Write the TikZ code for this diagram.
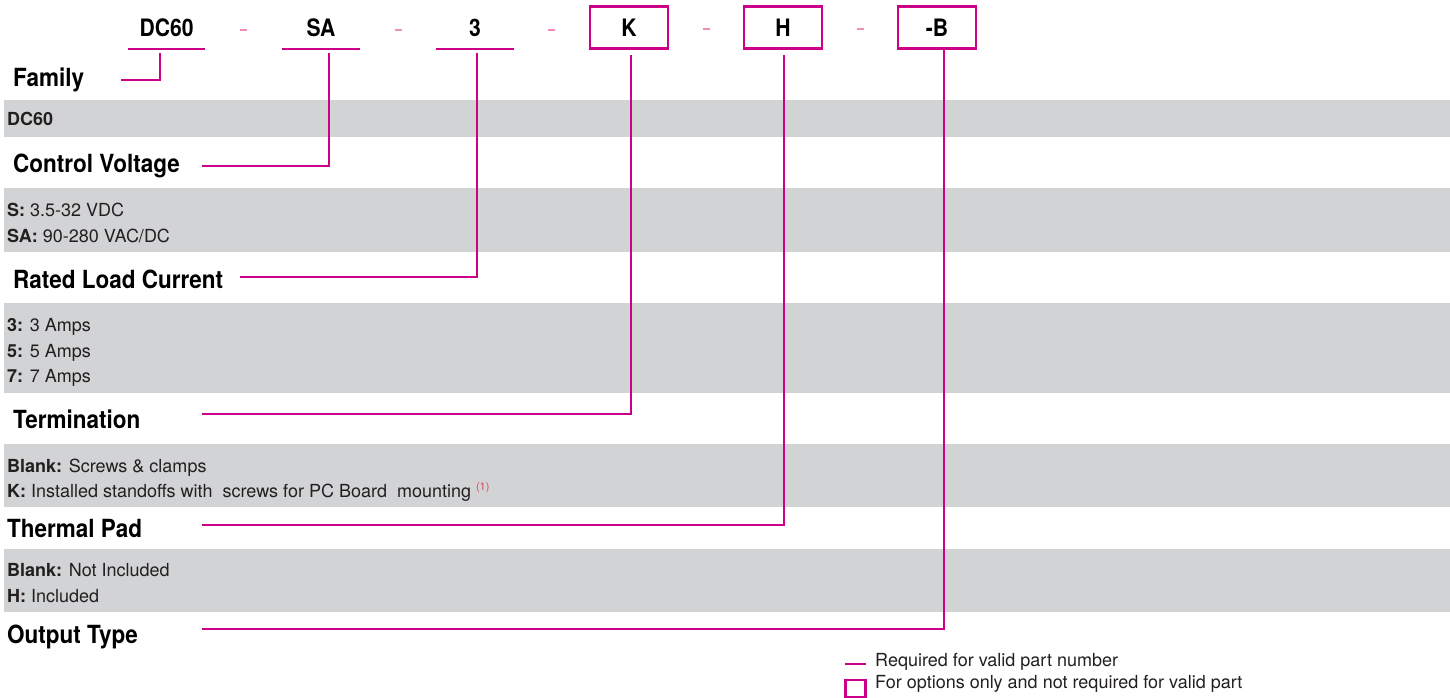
\documentclass[tikz,border=0pt]{standalone}
\usepackage{fontspec}
\setmainfont{TeX Gyre Heros}
\newfontfamily\headfont{TeX Gyre Heros}[FakeStretch=0.9]
\newfontfamily\codefont{TeX Gyre Heros}[FakeStretch=0.88]
\usetikzlibrary{calc}
\definecolor{mag}{RGB}{204,0,136}
\definecolor{dashpink}{RGB}{240,140,185}
\definecolor{band}{RGB}{209,211,212}
\definecolor{txt}{RGB}{35,31,32}
\definecolor{fnred}{RGB}{225,70,90}
\begin{document}
\begin{tikzpicture}[x=1pt,y=-1pt,
  codebox/.style={font=\codefont\fontsize{24}{24}\selectfont\bfseries, anchor=center, inner sep=0pt, minimum width=77pt, minimum height=42pt, text depth=0pt},
  optbox/.style={codebox, draw=mag, line width=2.5pt, minimum width=78pt},
  head/.style={font=\headfont\fontsize{25}{25}\selectfont\bfseries, anchor=base west, inner sep=0pt},
  body/.style={font=\fontsize{18}{18}\selectfont, anchor=base west, inner sep=0pt, text=txt},
  conn/.style={draw=mag, line width=2pt},
  sepdash/.style={draw=dashpink, line width=2pt},
  bandfill/.style={fill=band}]
\useasboundingbox (0,0) rectangle (1450,698);

% gray bands
\fill[bandfill] (4,100) rectangle (1450,137);
\fill[bandfill] (4,188) rectangle (1450,252);
\fill[bandfill] (4,303) rectangle (1450,393);
\fill[bandfill] (4,444) rectangle (1450,507);
\fill[bandfill] (4,549) rectangle (1450,612);

% part-number codes
\node[codebox] (dc) at (166.5,28) {DC60};
\node[codebox] (sa) at (321,28) {SA};
\node[codebox] (cur) at (475,28) {3};
\node[optbox] (k) at (629,27.5) {K};
\node[optbox] (h) at (783,27.5) {H};
\node[optbox] (b) at (937,27.5) {-B};

% underlines of required fields
\draw[conn] (dc.south west) -- (dc.south east);
\draw[conn] (sa.south west) -- (sa.south east);
\draw[conn] (cur.south west) -- (cur.south east);

% separator dashes
\foreach \p/\q in {dc/sa, sa/cur, cur/k, k/h, h/b}{
  \draw[sepdash] ($($(\p.east)!0.5!(\q.west)$)+(-3.5,2)$) -- ++(7,0);
}

% headings
\node[head] (fam) at (13,87) {Family};
\node[head] (cv) at (13,172) {Control Voltage};
\node[head] (rlc) at (13,288) {Rated Load Current};
\node[head] (term) at (13,428) {Termination};
\node[head] (tp) at (7,537) {Thermal Pad};
\node[head] (ot) at (7,643) {Output Type};

% connector ends beside headings
\coordinate (famEnd) at (121,80);
\coordinate (cvEnd) at (202,166);
\coordinate (rlcEnd) at (240,277);
\coordinate (termEnd) at (202,414);
\coordinate (tpEnd) at (202,525);
\coordinate (otEnd) at (202,629);

% connectors
\draw[conn] ([shift={(-6.5,4)}]dc.south) |- (famEnd);
\draw[conn] ([shift={(8,4)}]sa.south) |- (cvEnd);
\draw[conn] ([shift={(2,4)}]cur.south) |- (rlcEnd);
\draw[conn] ([shift={(2,5.5)}]k.south) |- (termEnd);
\draw[conn] ([shift={(1,5.5)}]h.south) |- (tpEnd);
\draw[conn] ([shift={(7,0)}]b.south) |- (otEnd);

% band texts
\node[body] (t1) at (7,125) {\textbf{DC60}};
\node[body] (t2) at (7,216) {\textbf{S:} 3.5-32 VDC};
\node[body] (t3) at (7,242) {\textbf{SA:} 90-280 VAC/DC};
\node[body] (t4) at (7,331) {\textbf{3:} 3 Amps};
\node[body] (t5) at (7,357) {\textbf{5:} 5 Amps};
\node[body] (t6) at (7,382) {\textbf{7:} 7 Amps};
\node[body] (t7) at (7,472) {\textbf{Blank:} Screws \& clamps};
\node[body] (t8) at (7,497) {\textbf{K:} Installed standoffs with\ \ screws for PC Board\ \ mounting \raisebox{7pt}{\fontsize{11}{11}\selectfont\color{fnred}(1)}};
\node[body] (t9) at (7,576) {\textbf{Blank:} Not Included};
\node[body] (t10) at (7,602) {\textbf{H:} Included};

% legend
\coordinate (lgA) at (845,664);
\coordinate (lgB) at (866,664);
\draw[conn] (lgA) -- (lgB);
\node[body] (lg1) at (875,666) {Required for valid part number};
\coordinate (lgC) at (845.5,680);
\coordinate (lgD) at (865.5,697);
\draw[draw=mag, line width=2.5pt] (lgC) rectangle (lgD);
\node[body] (lg2) at (875,688) {For options only and not required for valid part};
\end{tikzpicture}
\end{document}
